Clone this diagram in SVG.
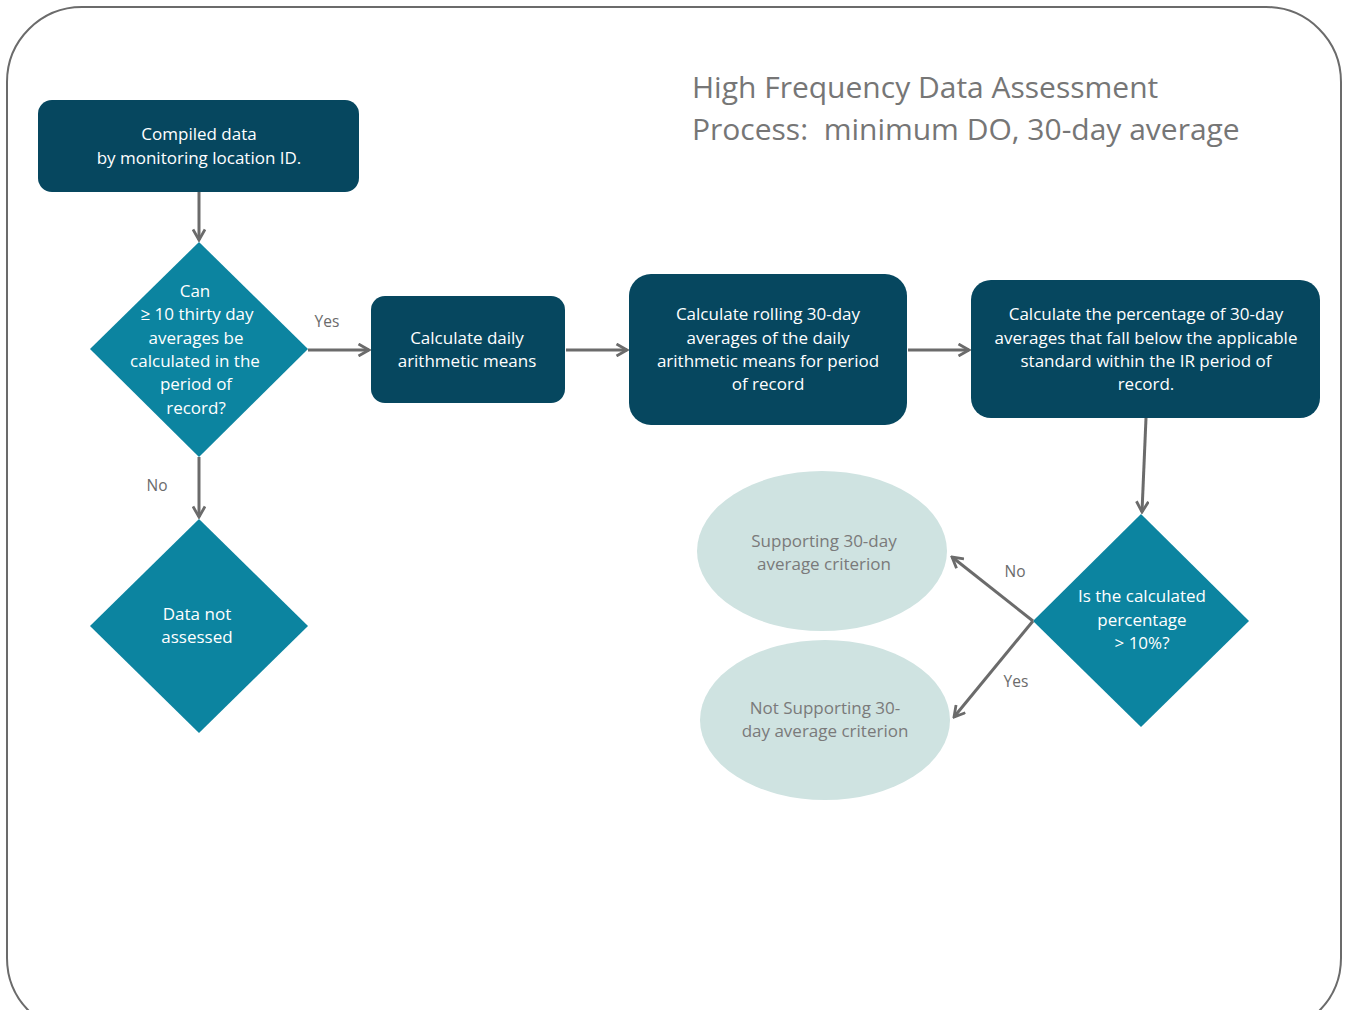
<svg xmlns="http://www.w3.org/2000/svg" width="1347" height="1010" viewBox="0 0 1347 1010">
<defs>
<marker id="ah" viewBox="0 0 14 14" refX="12" refY="7" markerWidth="14" markerHeight="14" markerUnits="userSpaceOnUse" orient="auto">
<path d="M1.5,1 L12,7 L1.5,13" fill="none" stroke="#6b6b6b" stroke-width="2.8"/>
</marker>
</defs>
<style>
.box{fill:#06475f}
.dia{fill:#0c84a0}
.ell{fill:#cfe3e1}
.t{font-family:"Open Sans","Liberation Sans",Arial,sans-serif;font-size:17px;fill:#ffffff;text-anchor:middle}
.et{font-family:"Open Sans","Liberation Sans",Arial,sans-serif;font-size:17px;fill:#7a7a7a;text-anchor:middle}
.lbl{font-family:"Open Sans","Liberation Sans",Arial,sans-serif;font-size:15.5px;fill:#6b6b6b;text-anchor:middle}
.title{font-family:"Open Sans","Liberation Sans",Arial,sans-serif;font-size:30px;fill:#767676}
.c{fill:none;stroke:#6b6b6b;stroke-width:3;marker-end:url(#ah)}
</style>
<rect x="7" y="7" width="1334" height="1026" rx="75" ry="75" fill="#ffffff" stroke="#6b6b6b" stroke-width="2"/>
<g id="title">
<text class="title" x="692" y="98">High Frequency Data Assessment</text>
<text class="title" x="692" y="140">Process:&#160; minimum DO, 30-day average</text>
</g>
<g id="compiled">
<rect class="box" x="38" y="100" width="321" height="92" rx="14"/>
<text class="t" x="199" y="140">Compiled data</text>
<text class="t" x="199" y="164">by monitoring location ID.</text>
</g>
<g id="can10">
<polygon class="dia" points="199,242 308,349 199,457 90,349"/>
<text class="t" x="195" y="297">Can</text>
<text class="t" x="197" y="320">≥ 10 thirty day</text>
<text class="t" x="196" y="344">averages be</text>
<text class="t" x="195" y="367">calculated in the</text>
<text class="t" x="196" y="390">period of</text>
<text class="t" x="196" y="414">record?</text>
</g>
<g id="notassessed">
<polygon class="dia" points="199,519 308,626 199,733 90,626"/>
<text class="t" x="197" y="620">Data not</text>
<text class="t" x="197" y="643">assessed</text>
</g>
<g id="daily">
<rect class="box" x="371" y="296" width="194" height="107" rx="14"/>
<text class="t" x="467" y="344">Calculate daily</text>
<text class="t" x="467" y="367">arithmetic means</text>
</g>
<g id="rolling">
<rect class="box" x="629" y="274" width="278" height="151" rx="22"/>
<text class="t" x="768" y="320">Calculate rolling 30-day</text>
<text class="t" x="768" y="344">averages of the daily</text>
<text class="t" x="768" y="367">arithmetic means for period</text>
<text class="t" x="768" y="390">of record</text>
</g>
<g id="percentage">
<rect class="box" x="971" y="280" width="349" height="138" rx="20"/>
<text class="t" x="1146" y="320">Calculate the percentage of 30-day</text>
<text class="t" x="1146" y="344">averages that fall below the applicable</text>
<text class="t" x="1146" y="367">standard within the IR period of</text>
<text class="t" x="1146" y="390">record.</text>
</g>
<g id="is10">
<polygon class="dia" points="1141,514 1249,621 1141,727 1033,621"/>
<text class="t" x="1142" y="602">Is the calculated</text>
<text class="t" x="1142" y="626">percentage</text>
<text class="t" x="1142" y="649">&gt; 10%?</text>
</g>
<g id="supporting">
<ellipse class="ell" cx="822" cy="551" rx="125" ry="80"/>
<text class="et" x="824" y="547">Supporting 30-day</text>
<text class="et" x="824" y="570">average criterion</text>
</g>
<g id="notsupporting">
<ellipse class="ell" cx="825" cy="720" rx="125" ry="80"/>
<text class="et" x="825" y="714">Not Supporting 30-</text>
<text class="et" x="825" y="737">day average criterion</text>
</g>
<g id="connectors">
<line class="c" x1="199" y1="192" x2="199" y2="240"/>
<line class="c" x1="308" y1="350" x2="369" y2="350"/>
<line class="c" x1="566" y1="350" x2="627" y2="350"/>
<line class="c" x1="908" y1="350" x2="969" y2="350"/>
<line class="c" x1="1146" y1="418" x2="1142" y2="512"/>
<line class="c" x1="199" y1="457" x2="199" y2="517"/>
<line class="c" x1="1033" y1="621" x2="952" y2="557"/>
<line class="c" x1="1033" y1="621" x2="954" y2="717"/>
<text class="lbl" x="327" y="327">Yes</text>
<text class="lbl" x="157" y="491">No</text>
<text class="lbl" x="1015" y="577">No</text>
<text class="lbl" x="1016" y="687">Yes</text>
</g>
</svg>
